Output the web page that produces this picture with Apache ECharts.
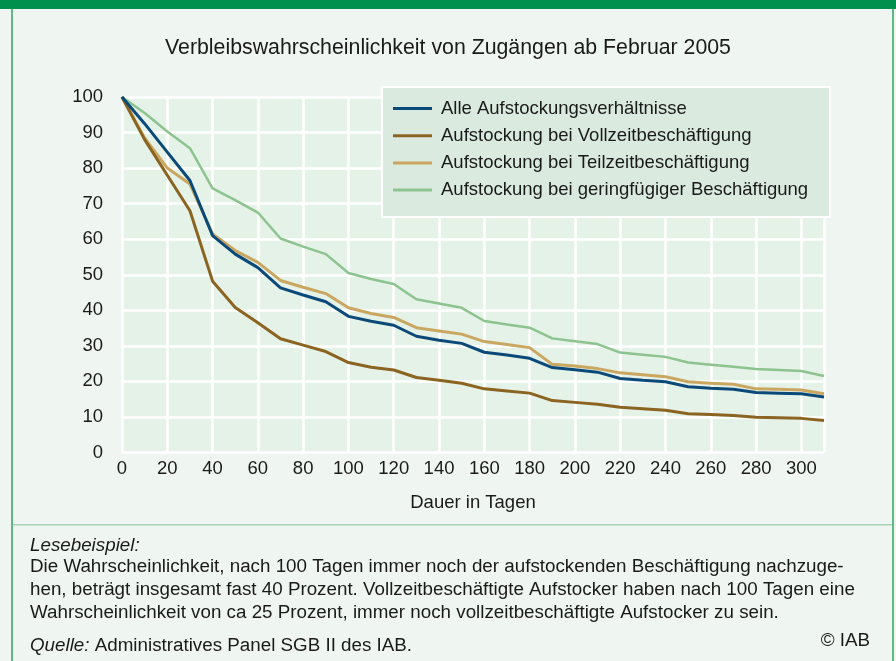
<!DOCTYPE html>
<html>
    <head>
        <meta charset="UTF-8">
        <title></title>
        <script src="https://cdn.jsdelivr.net/npm/echarts@6/dist/echarts.min.js"></script>
        <style>
            html, body { margin: 0; padding: 0; background: #eff6f1; }
        </style>
    </head>
    <body>
        <div id="main" style="width: 896px; height: 661px;"></div>
        <script>
            // Tage seit Zugang
            var days = [0, 10, 20, 30, 40, 50, 60, 70, 80, 90, 100, 110, 120, 130, 140, 150,
                        160, 170, 180, 190, 200, 210, 220, 230, 240, 250, 260, 270, 280, 290, 300, 310];
            var seriesNames = ['Alle Aufstockungsverhältnisse', 'Aufstockung bei Vollzeitbeschäftigung',
                               'Aufstockung bei Teilzeitbeschäftigung', 'Aufstockung bei geringfügiger Beschäftigung'];
            var alle = [100, 92.5, 84.5, 76.5, 61, 55.8, 52, 46.3, 44.3, 42.4, 38.3, 36.9, 35.8, 32.7, 31.6, 30.7,
                        28.2, 27.4, 26.5, 23.9, 23.3, 22.6, 20.8, 20.3, 19.9, 18.5, 18.1, 17.8, 16.9, 16.7, 16.5, 15.6];
            var vollzeit = [100, 88, 78, 68, 48.2, 40.8, 36.5, 32, 30.2, 28.4, 25.3, 24, 23.2, 21.1, 20.3, 19.5,
                            17.9, 17.3, 16.7, 14.6, 14.1, 13.6, 12.7, 12.3, 11.9, 10.9, 10.7, 10.4, 9.9, 9.8, 9.6, 9];
            var teilzeit = [100, 88.5, 80, 75.5, 61.5, 56.8, 53.5, 48.4, 46.5, 44.7, 40.7, 39.1, 38, 35.1, 34.2, 33.3,
                            31.2, 30.4, 29.5, 24.8, 24.3, 23.6, 22.4, 21.9, 21.3, 19.9, 19.5, 19.2, 17.9, 17.8, 17.6, 16.5];
            var geringfuegig = [100, 95.5, 90.3, 85.6, 74.3, 71, 67.5, 60.2, 57.9, 55.8, 50.5, 48.8, 47.4, 43.1, 41.9, 40.7,
                                37, 36, 35.1, 32.1, 31.3, 30.5, 28.1, 27.5, 26.9, 25.3, 24.7, 24.1, 23.5, 23.2, 22.9, 21.5];
            var colors = ['#0b4a78', '#8a6420', '#caa760', '#8cc38f'];
            var widths = [3, 3, 3, 2.5];

            function pairs(vals) {
                return days.map(function(d, i) { return [d, vals[i]]; });
            }
            var allData = [alle, vollzeit, teilzeit, geringfuegig];

            var font = 'Liberation Sans, Arial, sans-serif';
            var fs = 18.5;   // Achsen, Legende
            var fb = 18.8;   // Fusstext
            var chart = echarts.init(document.getElementById('main'));
            chart.setOption({
                backgroundColor: '#eff6f1',
                animation: false,
                textStyle: { fontFamily: font },
                title: {
                    text: 'Verbleibswahrscheinlichkeit von Zugängen ab Februar 2005',
                    left: 'center',
                    top: 33,
                    textStyle: { fontSize: 21.3, fontWeight: 'normal', color: '#1a1a1a', fontFamily: font }
                },
                grid: {
                    left: 122, top: 97, right: 72, bottom: 208.5,
                    show: true, backgroundColor: '#e5f2e8', borderWidth: 0
                },
                legend: {
                    orient: 'vertical',
                    left: 388, top: 94,
                    z: 10,
                    itemWidth: 39, itemHeight: 3, itemGap: 8.2,
                    icon: 'rect',
                    data: seriesNames,
                    textStyle: { fontSize: fs, color: '#1a1a1a', fontFamily: font, padding: [0, 0, 0, 4] }
                },
                xAxis: {
                    type: 'value', min: 0, max: 310, interval: 20,
                    name: 'Dauer in Tagen', nameLocation: 'middle', nameGap: 41,
                    nameTextStyle: { fontSize: fs, color: '#1a1a1a' },
                    axisLine: { show: false }, axisTick: { show: false },
                    axisLabel: { fontSize: fs, color: '#1a1a1a', margin: 7, showMaxLabel: false },
                    splitLine: { show: true, lineStyle: { color: '#ffffff', width: 2.5 } }
                },
                yAxis: {
                    type: 'value', min: 0, max: 100, interval: 10,
                    axisLine: { show: false }, axisTick: { show: false },
                    axisLabel: { fontSize: fs, color: '#1a1a1a', margin: 19 },
                    splitLine: { show: true, lineStyle: { color: '#ffffff', width: 2.5 } }
                },
                graphic: [
                    // Rahmen
                    { type: 'rect', z: -10, shape: { x: 0, y: 0, width: 896, height: 9 }, style: { fill: '#00904e' } },
                    { type: 'rect', z: -10, shape: { x: 11, y: 9, width: 2, height: 652 }, style: { fill: '#5fb982' } },
                    { type: 'rect', z: -10, shape: { x: 892, y: 9, width: 2, height: 652 }, style: { fill: '#5fb982' } },
                    { type: 'rect', z: -10, shape: { x: 13, y: 524, width: 879, height: 1.5 }, style: { fill: '#a6d3b4' } },
                    // Legendenkasten
                    { type: 'rect', z: 5, shape: { x: 382, y: 87, width: 448, height: 130 },
                      style: { fill: '#dbeadf', stroke: '#ffffff', lineWidth: 2 } },
                    // Lesebeispiel
                    { type: 'text', left: 30, top: 536, z: 5,
                      style: { text: 'Lesebeispiel:', font: 'italic ' + fb + 'px ' + font, fill: '#1a1a1a' } },
                    { type: 'text', left: 30, top: 555, z: 5,
                      style: {
                          text: 'Die Wahrscheinlichkeit, nach 100 Tagen immer noch der aufstockenden Beschäftigung nachzuge-\n' +
                                'hen, beträgt insgesamt fast 40 Prozent. Vollzeitbeschäftigte Aufstocker haben nach 100 Tagen eine\n' +
                                'Wahrscheinlichkeit von ca 25 Prozent, immer noch vollzeitbeschäftigte Aufstocker zu sein.',
                          font: fb + 'px ' + font, fill: '#1a1a1a', lineHeight: 23
                      } },
                    { type: 'text', left: 30, top: 636, z: 5,
                      style: {
                          text: '{i|Quelle:} Administratives Panel SGB II des IAB.',
                          font: fb + 'px ' + font, fill: '#1a1a1a',
                          rich: { i: { fontStyle: 'italic', fontSize: fb, fontFamily: font } }
                      } },
                    { type: 'text', right: 26, top: 631, z: 5,
                      style: { text: '© IAB', font: fb + 'px ' + font, fill: '#1a1a1a' } }
                ],
                series: seriesNames.map(function(n, i) {
                    return {
                        name: n,
                        type: 'line',
                        data: pairs(allData[i]),
                        showSymbol: false,
                        color: colors[i],
                        lineStyle: { color: colors[i], width: widths[i] },
                        z: 2 + (3 - i)
                    };
                })
            });
        </script>
    </body>
</html>
